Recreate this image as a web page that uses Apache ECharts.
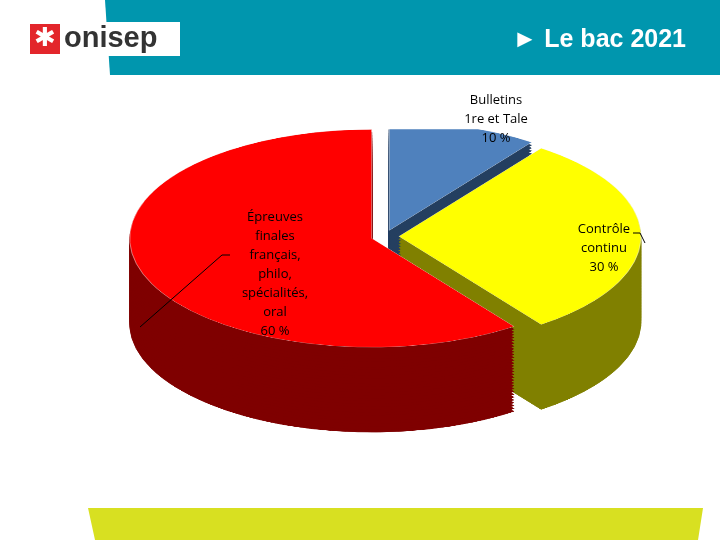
<!DOCTYPE html>
<html><head><meta charset="utf-8">
<script src="https://cdn.jsdelivr.net/npm/echarts@6/dist/echarts.min.js"></script>
<style>
body{margin:0;width:720px;height:540px;overflow:hidden;background:#fff;position:relative}
#pie{position:absolute;left:0;top:0;width:720px;height:1000px;transform-origin:385px 235px;transform:scaleY(0.45)}
#over{position:absolute;left:0;top:0;width:720px;height:540px}
</style></head><body>
<div id="pie"></div><div id="over"></div>
<script>
// parts of the final grade
const categories = ['Bulletins\n1re et Tale\n10 %', 'Contrôle\ncontinu\n30 %', 'Épreuves\nfinales\nfrançais,\nphilo,\nspécialités,\noral\n60 %'];
const values = [10, 30, 60];
const topColors = ['#4f81bd', '#ffff00', '#ff0000'];
const sideColors = ['#243f60', '#808000', '#7f0000'];

const pie = echarts.init(document.getElementById('pie'));
const series = [];
const depth = 85 / 0.45, layers = 30;
for (let i = layers; i >= 0; i--) {
  const top = i === 0;
  series.push({
    type: 'pie', silent: true, animation: false,
    center: [385, 238 + depth * i / layers], radius: 242,
    startAngle: 90, selectedMode: 'multiple', selectedOffset: 14,
    label: {show: false}, labelLine: {show: false},
    data: values.map((v, k) => ({
      value: v, name: categories[k], selected: true,
      itemStyle: {color: top ? topColors[k] : sideColors[k],
        borderColor: top ? '#eee' : sideColors[k], borderWidth: top ? 0.5 : 1}
    }))
  });
}
pie.setOption({series});

const over = echarts.init(document.getElementById('over'));
const font = {fontFamily: 'Open Sans', fontSize: 13, fill: '#000', textAlign: 'center', lineHeight: 19};
over.setOption({
  graphic: [
    {type: 'polygon', shape: {points: [[105, 0], [720, 0], [720, 75], [110, 75]]}, style: {fill: '#0096ae'}},
    {type: 'rect', shape: {x: 28, y: 22, width: 152, height: 34}, style: {fill: '#fff'}},
    {type: 'rect', shape: {x: 30, y: 24, width: 30, height: 30}, style: {fill: '#e3262b'}},
    {type: 'text', x: 45, y: 39, style: {text: '✱', fill: '#fff', fontSize: 26, textAlign: 'center', textVerticalAlign: 'middle'}},
    {type: 'text', x: 64, y: 24, style: {text: 'onisep', fill: '#333', fontSize: 29, fontWeight: 'bold', fontFamily: 'Arial'}},
    {type: 'text', x: 686, y: 28, style: {text: '► Le bac 2021', fill: '#fff', fontSize: 25, fontWeight: 'bold', fontFamily: 'Liberation Sans', textAlign: 'right'}},
    {type: 'polygon', shape: {points: [[88, 508], [703, 508], [698, 540], [95, 540]]}, style: {fill: '#d8e021'}},
    {type: 'text', x: 496, y: 91, style: Object.assign({text: categories[0]}, font)},
    {type: 'text', x: 604, y: 220, style: Object.assign({text: categories[1]}, font)},
    {type: 'text', x: 275, y: 208, style: Object.assign({text: categories[2]}, font)},
    {type: 'polyline', shape: {points: [[140, 327], [222, 255], [230, 255]]}, style: {stroke: '#000', lineWidth: 1}},
    {type: 'polyline', shape: {points: [[633, 233], [640, 233], [645, 243]]}, style: {stroke: '#000', lineWidth: 1}}
  ]
});
</script></body></html>
